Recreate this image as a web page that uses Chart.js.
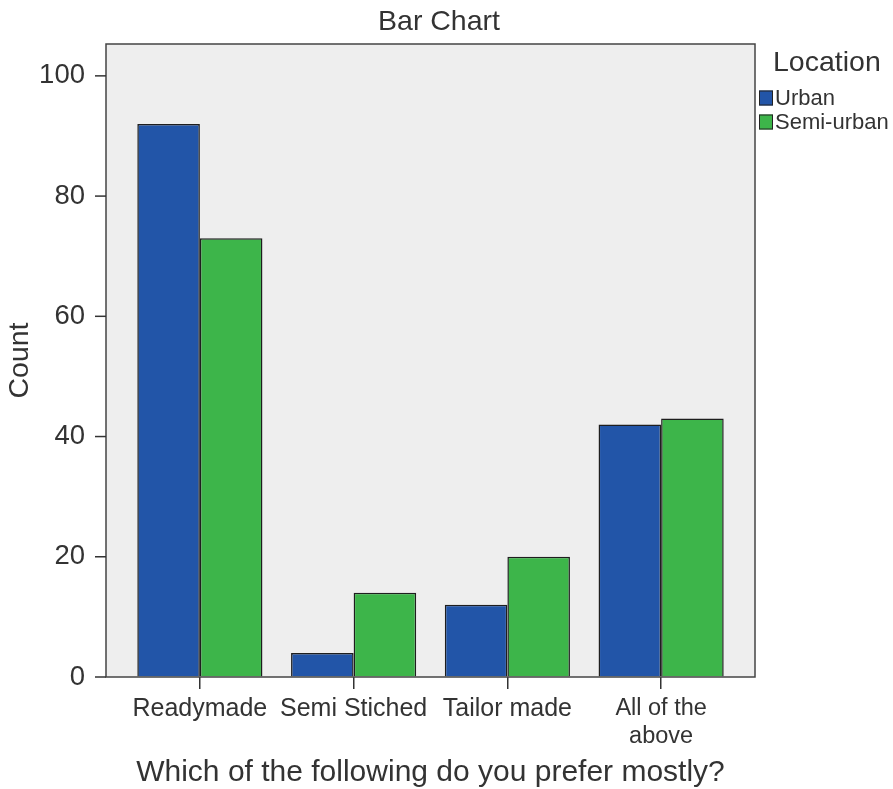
<!DOCTYPE html>
<html>
<head>
<meta charset="utf-8">
<script src="https://cdn.jsdelivr.net/npm/chart.js@4.4.0/dist/chart.umd.min.js"></script>
<style>
html,body{margin:0;padding:0;background:#ffffff;}
#wrap{width:893px;height:789px;}
</style>
</head>
<body>
<div id="wrap"><canvas id="c" width="893" height="789"></canvas></div>
<script>
const categories = ['Readymade', 'Semi Stiched', 'Tailor made', ['All of the', 'above']];
const seriesNames = ['Urban', 'Semi-urban'];
const urbanCounts = [92, 4, 12, 42];
const semiUrbanCounts = [73, 14, 20, 43];
const seriesColors = ['#2255a8', '#3db54a'];
const chartTitle = 'Bar Chart';
const xTitle = 'Which of the following do you prefer mostly?';
const yTitle = 'Count';
const legendTitle = 'Location';
const yTickStep = 20;
const yMax = 105.3;

const FONT = "'Liberation Sans', Arial, Helvetica, sans-serif";
const TXT = '#333333';
const INSET = 17;

const framePlugin = {
  id: 'frame',
  beforeDatasetsDraw(chart) {
    const a = chart.chartArea, ctx = chart.ctx;
    ctx.save();
    ctx.fillStyle = '#eeeeee';
    ctx.fillRect(a.left - INSET, a.top, (a.right - a.left) + 2 * INSET, a.bottom - a.top);
    ctx.restore();
  },
  afterDatasetsDraw(chart) {
    const a = chart.chartArea, ctx = chart.ctx;
    const y = chart.scales.y;
    ctx.save();
    ctx.strokeStyle = '#444444';
    ctx.lineWidth = 1.5;
    ctx.strokeRect(a.left - INSET, a.top, (a.right - a.left) + 2 * INSET, a.bottom - a.top);
    // y tick marks
    ctx.strokeStyle = '#333333';
    y.ticks.forEach(t => {
      const py = y.getPixelForValue(t.value);
      ctx.beginPath();
      ctx.moveTo(a.left - INSET - 11, py);
      ctx.lineTo(a.left - INSET, py);
      ctx.stroke();
    });
    // legend
    const lx = a.right + INSET + 4;
    ctx.fillStyle = TXT;
    ctx.textBaseline = 'middle';
    ctx.textAlign = 'left';
    ctx.font = '28.5px ' + FONT;
    ctx.fillText(legendTitle, lx + 14, 63);
    chart.data.datasets.forEach((ds, i) => {
      const cy = 98 + i * 24;
      ctx.fillStyle = ds.backgroundColor;
      ctx.fillRect(lx, cy - 7.5, 14, 15);
      ctx.strokeStyle = '#222222';
      ctx.lineWidth = 1;
      ctx.strokeRect(lx + 0.5, cy - 7, 13, 14);
      ctx.fillStyle = TXT;
      ctx.font = '22px ' + FONT;
      ctx.fillText(ds.label, lx + 16, cy + 1);
    });
    ctx.restore();
  }
};

new Chart(document.getElementById('c'), {
  type: 'bar',
  data: {
    labels: categories,
    datasets: [
      { label: seriesNames[0], data: urbanCounts, backgroundColor: seriesColors[0], borderColor: '#1e1e1e', borderWidth: 1.5 },
      { label: seriesNames[1], data: semiUrbanCounts, backgroundColor: seriesColors[1], borderColor: '#1e1e1e', borderWidth: 1.5 }
    ]
  },
  options: {
    responsive: false,
    animation: false,
    devicePixelRatio: 1,
    categoryPercentage: 0.814,
    barPercentage: 1.0,
    layout: { padding: { left: 0, right: 15, top: 0, bottom: 0 } },
    plugins: {
      legend: { display: false },
      tooltip: { enabled: false },
      title: {
        display: true,
        text: chartTitle,
        color: TXT,
        font: { family: FONT, size: 28.5, weight: 'normal', lineHeight: 1.2 },
        padding: { top: 5, bottom: 4.8 }
      }
    },
    scales: {
      x: {
        type: 'category',
        offset: true,
        grid: { display: true, drawOnChartArea: false, drawTicks: true, tickLength: 12, offset: false, color: '#333333', lineWidth: 1.5 },
        border: { display: false },
        ticks: {
          autoSkip: false,
          maxRotation: 0,
          minRotation: 0,
          padding: 5.5,
          color: TXT,
          font: (ctx) => ({ family: FONT, size: ctx.index === 3 ? 23.5 : 25, lineHeight: 1.2 })
        },
        title: {
          display: true,
          text: xTitle,
          color: TXT,
          font: { family: FONT, size: 30, lineHeight: 1.1 },
          padding: { top: 0, bottom: 0 }
        },
        afterFit(scale) { scale.height = 112; scale.paddingLeft = 0; scale.paddingRight = 0; }
      },
      y: {
        type: 'linear',
        min: 0,
        max: yMax,
        grid: { display: true, drawOnChartArea: false, drawTicks: false },
        border: { display: false },
        ticks: {
          stepSize: yTickStep,
          includeBounds: false,
          padding: 38,
          color: TXT,
          font: { family: FONT, size: 27.5 }
        },
        afterBuildTicks(scale) {
          scale.ticks = scale.ticks.filter(t => t.value % yTickStep === 0);
        },
        title: {
          display: true,
          text: yTitle,
          color: TXT,
          font: { family: FONT, size: 28.5 },
          padding: { top: 3, bottom: 0 }
        },
        afterFit(scale) { scale.width = 123; scale.paddingTop = 0; scale.paddingBottom = 0; }
      },
      yr: {
        type: 'linear',
        position: 'right',
        display: true,
        grid: { display: false },
        border: { display: false },
        ticks: { display: false },
        afterFit(scale) { scale.width = 140; scale.paddingTop = 0; scale.paddingBottom = 0; }
      }
    }
  },
  plugins: [framePlugin]
});
</script>
</body>
</html>
